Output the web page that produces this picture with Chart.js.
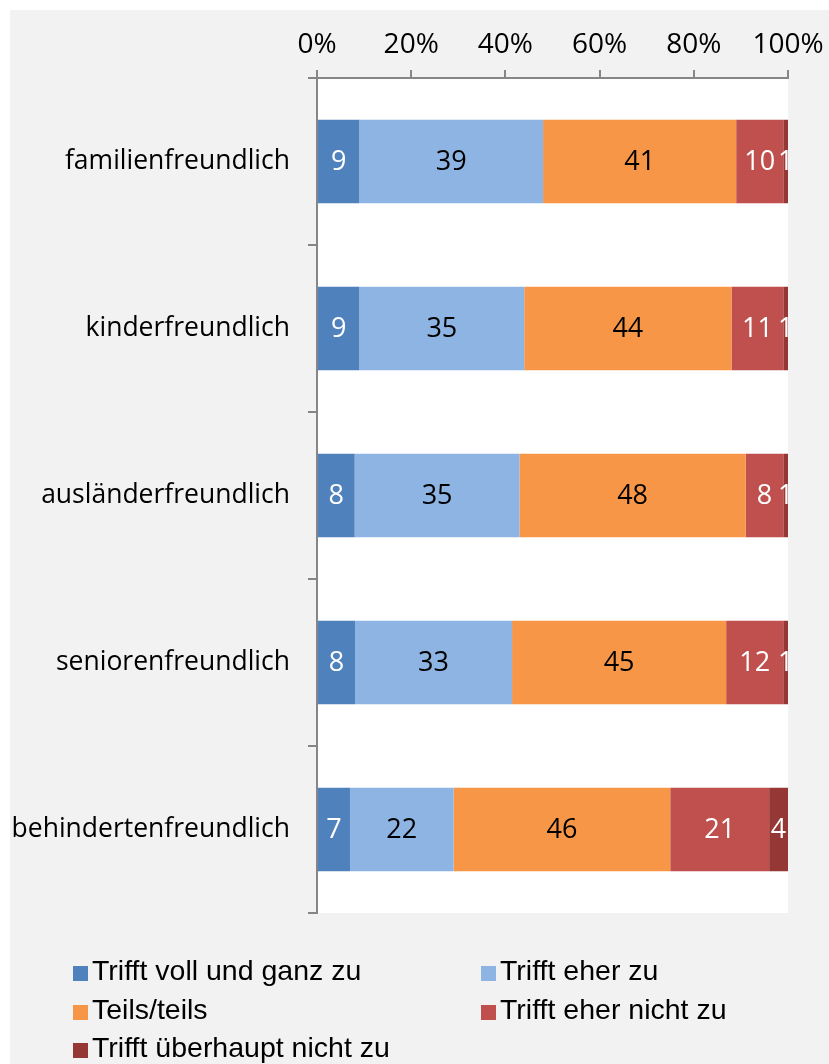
<!DOCTYPE html>
<html>
<head>
<meta charset="utf-8">
<script src="https://cdn.jsdelivr.net/npm/chart.js@4.4.1/dist/chart.umd.min.js"></script>
<style>
  body { margin: 0; background: #fff; }
  #wrap { position: absolute; left: 10px; top: 10px; width: 819px; height: 1054px; background: #F2F2F2; }
  #chart { position: absolute; left: 0; top: 0; }
  #legend { position: absolute; left: 63px; top: 941px; width: 760px; font-family: "Liberation Sans", Arial, sans-serif; font-size: 28.5px; color: #000; }
  .item { position: absolute; height: 38px; line-height: 38px; white-space: nowrap; }
  .box { display: inline-block; width: 15px; height: 15px; margin-right: 4px; vertical-align: -1px; }
</style>
</head>
<body>
<div id="wrap">
  <canvas id="chart" width="819" height="1054"></canvas>
  <div id="legend"></div>
</div>
<script>
// categories and series (percent of answers)
var categories = ['familienfreundlich', 'kinderfreundlich', 'ausländerfreundlich', 'seniorenfreundlich', 'behindertenfreundlich'];
var seriesNames = ['Trifft voll und ganz zu', 'Trifft eher zu', 'Teils/teils', 'Trifft eher nicht zu', 'Trifft überhaupt nicht zu'];
var vollUndGanz = [9, 9, 8, 8, 7];
var eherZu = [39, 35, 35, 33, 22];
var teilsTeils = [41, 44, 48, 45, 46];
var eherNicht = [10, 11, 8, 12, 21];
var ueberhauptNicht = [1, 1, 1, 1, 4];
var xTicks = [0, 20, 40, 60, 80, 100];

var colors = ['#4F81BD', '#8EB4E3', '#F79646', '#C0504D', '#953735'];
var labelColors = ['#fff', '#000', '#000', '#fff', '#fff'];
var series = [vollUndGanz, eherZu, teilsTeils, eherNicht, ueberhauptNicht];

// 100% stacked: scale each row to its total
var totals = categories.map(function (c, j) {
    return series.reduce(function (s, arr) { return s + arr[j]; }, 0);
});

var datasets = series.map(function (arr, i) {
    return {
        label: seriesNames[i],
        data: arr.map(function (v, j) { return v / totals[j] * 100; }),
        backgroundColor: colors[i],
        borderWidth: 0,
        barPercentage: 0.5,
        categoryPercentage: 1
    };
});

// white plot area
var plotBg = {
    id: 'plotBg',
    beforeDraw: function (chart) {
        var a = chart.chartArea;
        chart.ctx.save();
        chart.ctx.fillStyle = '#fff';
        chart.ctx.fillRect(a.left, a.top, a.right - a.left, a.bottom - a.top);
        chart.ctx.restore();
    }
};

// value labels in the middle of each segment
var barLabels = {
    id: 'barLabels',
    afterDatasetsDraw: function (chart) {
        var ctx = chart.ctx;
        ctx.save();
        ctx.font = '27px "Open Sans", sans-serif';
        ctx.textAlign = 'center';
        ctx.textBaseline = 'middle';
        chart.data.datasets.forEach(function (ds, i) {
            chart.getDatasetMeta(i).data.forEach(function (bar, j) {
                ctx.fillStyle = labelColors[i];
                ctx.fillText(series[i][j], (bar.x + bar.base) / 2, bar.y + 1);
            });
        });
        ctx.restore();
    }
};

var ctx = document.getElementById('chart').getContext('2d');
var myChart = new Chart(ctx, {
    type: 'bar',
    data: { labels: categories, datasets: datasets },
    options: {
        indexAxis: 'y',
        responsive: false,
        animation: false,
        layout: { padding: { top: 0, left: 0, right: 41, bottom: 151 } },
        plugins: { legend: { display: false }, tooltip: { enabled: false } },
        scales: {
            x: {
                position: 'top',
                stacked: true,
                min: 0,
                max: 100,
                afterBuildTicks: function (scale) {
                    scale.ticks = xTicks.map(function (v) { return { value: v }; });
                },
                afterFit: function (scale) {
                    scale.height = 68;
                    scale.paddingLeft = 0;
                    scale.paddingRight = 0;
                },
                ticks: {
                    callback: function (v) { return v + '%'; },
                    font: { family: '"Open Sans", sans-serif', size: 28 },
                    color: '#000',
                    padding: 8,
                    maxRotation: 0
                },
                grid: { drawOnChartArea: false, tickLength: 8, color: '#868686', lineWidth: 2 },
                border: { color: '#868686', width: 2 }
            },
            y: {
                stacked: true,
                afterFit: function (scale) { scale.width = 307; },
                ticks: { font: { family: '"Open Sans", sans-serif', size: 26.5 }, color: '#000', padding: 18 },
                grid: { drawOnChartArea: false, tickLength: 9, color: '#868686', lineWidth: 2, offset: true },
                border: { color: '#868686', width: 2 }
            }
        }
    },
    plugins: [plotBg, barLabels]
});

// legend, two columns
var legend = document.getElementById('legend');
seriesNames.forEach(function (name, i) {
    var el = document.createElement('div');
    el.className = 'item';
    el.style.left = (i % 2 === 0 ? 0 : 408) + 'px';
    el.style.top = (Math.floor(i / 2) * 38.5) + 'px';
    el.innerHTML = '<span class="box" style="background:' + colors[i] + '"></span>' + name;
    legend.appendChild(el);
});
</script>
</body>
</html>
